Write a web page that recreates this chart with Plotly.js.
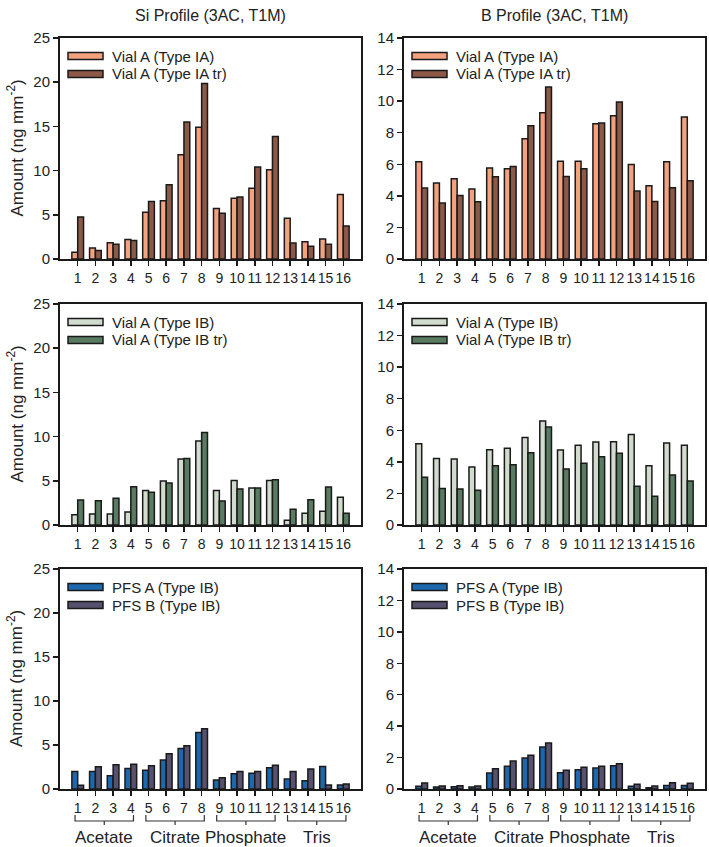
<!DOCTYPE html>
<html>
<head>
<meta charset="utf-8">
<script src="https://cdn.plot.ly/plotly-3.0.1.min.js"></script>
<style>
  html, body { margin: 0; padding: 0; background: #ffffff; }
  #chart { width: 709px; height: 847px; }
</style>
</head>
<body>
<div id="chart"></div>
<script>
// ---------------- DATA ----------------
const categories = [1, 2, 3, 4, 5, 6, 7, 8, 9, 10, 11, 12, 13, 14, 15, 16];
const tickLabels = ['1', '2', '3', '4', '5', '6', '7', '8', '9', '10', '11', '12', '13', '14', '15', '16'];

const groupNames = ['Acetate', 'Citrate', 'Phosphate', 'Tris'];
const groupStart = [1, 5, 9, 13];
const groupEnd = [4, 8, 12, 16];

const columnTitles = ['Si Profile (3AC, T1M)', 'B Profile (3AC, T1M)'];
const yTitle = 'Amount (ng mm<sup>-2</sup>)';

const namesIA = ['Vial A (Type IA)', 'Vial A (Type IA tr)'];
const namesIB = ['Vial A (Type IB)', 'Vial A (Type IB tr)'];
const namesPFS = ['PFS A (Type IB)', 'PFS B (Type IB)'];

// Si profile
const siIA    = [0.75, 1.25, 1.85, 2.2, 5.3, 6.6, 11.8, 14.9, 5.7, 6.87, 8.0, 10.1, 4.6, 1.96, 2.26, 7.3];
const siIAtr  = [4.75, 0.95, 1.66, 2.1, 6.5, 8.4, 15.5, 19.85, 5.17, 7.0, 10.4, 13.85, 1.8, 1.43, 1.66, 3.74];
const siIB    = [1.17, 1.25, 1.25, 1.47, 3.89, 4.98, 7.47, 9.5, 3.89, 5.02, 4.19, 5.02, 0.53, 1.32, 1.55, 3.13];
const siIBtr  = [2.83, 2.75, 3.02, 4.34, 3.7, 4.75, 7.51, 10.45, 2.72, 4.08, 4.19, 5.13, 1.77, 2.87, 4.3, 1.32];
const siPFSA  = [2.0, 2.0, 1.51, 2.34, 2.12, 3.29, 4.61, 6.43, 1.02, 1.74, 1.78, 2.42, 1.13, 0.95, 2.57, 0.45];
const siPFSB  = [0.42, 2.53, 2.76, 2.8, 2.65, 4.0, 4.92, 6.85, 1.29, 2.0, 2.0, 2.69, 2.0, 2.27, 0.45, 0.57];

// B profile
const bIA     = [6.16, 4.81, 5.08, 4.43, 5.76, 5.72, 7.62, 9.26, 6.2, 6.2, 8.57, 9.07, 5.99, 4.64, 6.16, 9.0];
const bIAtr   = [4.49, 3.54, 4.03, 3.63, 5.21, 5.86, 8.44, 10.89, 5.23, 5.72, 8.61, 9.94, 4.3, 3.65, 4.51, 4.96];
const bIB     = [5.15, 4.22, 4.18, 3.67, 4.77, 4.86, 5.55, 6.59, 4.75, 5.05, 5.26, 5.28, 5.74, 3.76, 5.19, 5.05];
const bIBtr   = [3.02, 2.32, 2.28, 2.2, 3.76, 3.82, 4.58, 6.21, 3.55, 3.91, 4.33, 4.54, 2.45, 1.82, 3.17, 2.79];
const bPFSA   = [0.17, 0.13, 0.15, 0.13, 1.02, 1.44, 1.97, 2.67, 1.04, 1.23, 1.33, 1.48, 0.17, 0.08, 0.23, 0.23];
const bPFSB   = [0.38, 0.19, 0.21, 0.19, 1.29, 1.78, 2.14, 2.92, 1.19, 1.38, 1.44, 1.61, 0.3, 0.19, 0.4, 0.36];

const siTicks = [0, 5, 10, 15, 20, 25];
const bTicks = [0, 2, 4, 6, 8, 10, 12, 14];

// ---------------- LAYOUT ----------------
const W = 709, H = 847;
const px = v => v / W;
const py = v => 1 - v / H;

const colX = [[60, 361], [404, 705]];
const rowY = [[38, 259], [304, 525], [569, 789]];

const colors = {
  IA: '#F3A17F', IAtr: '#8C5848',
  IB: '#D2DCCE', IBtr: '#587B61',
  PA: '#1D68AC', PB: '#55516E'
};
const edge = '#1a1a1a';

const panels = [
  [0, 0, siIA, siIAtr, namesIA, colors.IA, colors.IAtr],
  [0, 1, bIA, bIAtr, namesIA, colors.IA, colors.IAtr],
  [1, 0, siIB, siIBtr, namesIB, colors.IB, colors.IBtr],
  [1, 1, bIB, bIBtr, namesIB, colors.IB, colors.IBtr],
  [2, 0, siPFSA, siPFSB, namesPFS, colors.PA, colors.PB],
  [2, 1, bPFSA, bPFSB, namesPFS, colors.PA, colors.PB]
];

const font = 'Liberation Sans, Arial, sans-serif';
const traces = [];
const layout = {
  width: W, height: H,
  margin: {l: 0, r: 0, t: 0, b: 0},
  paper_bgcolor: '#ffffff',
  plot_bgcolor: '#ffffff',
  showlegend: false,
  barmode: 'group',
  bargap: 0.34,
  bargroupgap: 0,
  font: {family: font, size: 15, color: '#222222'},
  shapes: [],
  annotations: []
};

panels.forEach((p, i) => {
  const [r, c, d1, d2, names, c1, c2] = p;
  const n = i + 1;
  const xa = n === 1 ? 'x' : 'x' + n;
  const ya = n === 1 ? 'y' : 'y' + n;
  const xk = n === 1 ? 'xaxis' : 'xaxis' + n;
  const yk = n === 1 ? 'yaxis' : 'yaxis' + n;
  const ticks = c === 0 ? siTicks : bTicks;

  [[d1, names[0], c1], [d2, names[1], c2]].forEach(s => {
    traces.push({
      type: 'bar', x: categories, y: s[0], name: s[1],
      xaxis: xa, yaxis: ya,
      marker: {color: s[2], line: {color: edge, width: 1.5}},
      hoverinfo: 'x+y+name'
    });
  });

  layout[xk] = {
    domain: [px(colX[c][0]), px(colX[c][1])],
    anchor: ya,
    range: [0, 17],
    tickmode: 'array', tickvals: categories, ticktext: tickLabels,
    tickangle: 0,
    ticks: 'outside', ticklen: 5, tickwidth: 1.5, tickcolor: edge,
    showline: true, linewidth: 2, linecolor: edge, mirror: true,
    showgrid: false, zeroline: false,
    tickfont: {family: font, size: 14, color: '#222222'},
    fixedrange: true
  };
  layout[yk] = {
    domain: [py(rowY[r][1]), py(rowY[r][0])],
    anchor: xa,
    range: [0, ticks[ticks.length - 1]],
    tickmode: 'array', tickvals: ticks,
    ticks: 'outside', ticklen: 5, tickwidth: 1.5, tickcolor: edge,
    showline: true, linewidth: 2, linecolor: edge, mirror: true,
    showgrid: false, zeroline: false,
    tickfont: {family: font, size: 15, color: '#222222'},
    fixedrange: true
  };

  // custom legend
  const lx0 = colX[c][0] + 8, lx1 = colX[c][0] + 43;
  [[names[0], c1], [names[1], c2]].forEach((s, k) => {
    const cy = rowY[r][0] + 18 + 18 * k;
    layout.shapes.push({
      type: 'rect', xref: 'paper', yref: 'paper',
      x0: px(lx0), x1: px(lx1), y0: py(cy + 3.5), y1: py(cy - 3.5),
      fillcolor: s[1], line: {color: edge, width: 1.5}
    });
    layout.annotations.push({
      xref: 'paper', yref: 'paper', x: px(colX[c][0] + 50), y: py(cy),
      xanchor: 'left', yanchor: 'middle', showarrow: false,
      text: s[0], font: {family: font, size: 15, color: '#222222'}
    });
  });

  // y axis titles on left column
  if (c === 0) {
    layout.annotations.push({
      xref: 'paper', yref: 'paper', x: px(15), y: py((rowY[r][0] + rowY[r][1]) / 2),
      xanchor: 'center', yanchor: 'middle', showarrow: false, textangle: -90,
      text: yTitle, font: {family: font, size: 17, color: '#222222'}
    });
  }

  // group brackets on bottom row
  if (r === 2) {
    groupNames.forEach((g, k) => {
      const a = groupStart[k] - 0.15, b = groupEnd[k] + 0.15, m = (groupStart[k] + groupEnd[k]) / 2;
      const yTop = py(815), yMid = py(821), yTick = py(825);
      layout.shapes.push({
        type: 'path', xref: xa, yref: 'paper',
        path: `M ${a},${yTop} L ${a},${yMid} L ${b},${yMid} L ${b},${yTop} M ${m},${yMid} L ${m},${yTick}`,
        line: {color: '#333333', width: 1.2}
      });
      layout.annotations.push({
        xref: xa, yref: 'paper', x: m, y: py(837),
        xanchor: 'center', yanchor: 'middle', showarrow: false,
        text: g, font: {family: font, size: 17, color: '#222222'}
      });
    });
  }
});

// column titles
columnTitles.forEach((t, c) => {
  layout.annotations.push({
    xref: 'paper', yref: 'paper', x: px((colX[c][0] + colX[c][1]) / 2), y: py(15),
    xanchor: 'center', yanchor: 'middle', showarrow: false,
    text: t, font: {family: font, size: 16, color: '#222222'}
  });
});

Plotly.newPlot('chart', traces, layout, {displayModeBar: false, staticPlot: true});
</script>
</body>
</html>
